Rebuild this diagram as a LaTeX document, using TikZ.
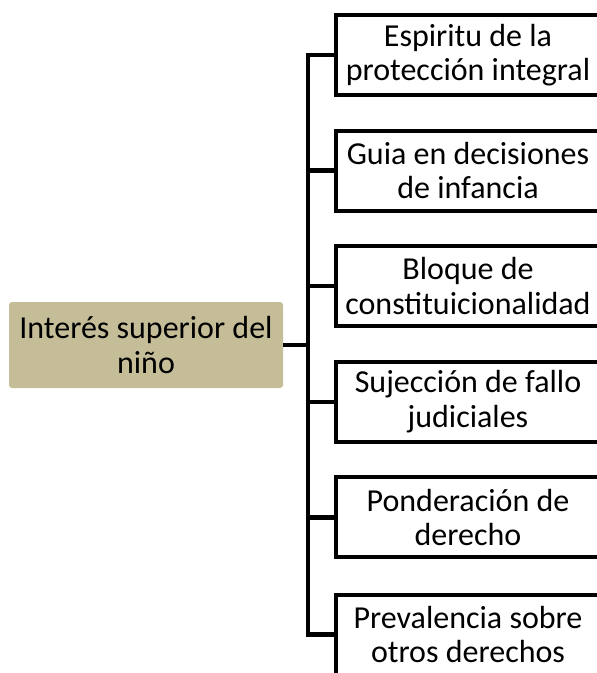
\documentclass[tikz,border=0pt]{standalone}
\usepackage{fontspec}
\setmainfont{Carlito}
\definecolor{tanfill}{HTML}{C4BD97}
\begin{document}
\begin{tikzpicture}[x=1pt,y=-1pt,
  leaf/.style={draw=black, line width=4pt, fill=white, minimum width=264pt, minimum height=80pt, inner sep=0pt, align=center, font=\fontsize{32}{34.5}\selectfont},
  rootbox/.style={fill=tanfill, rounded corners=3pt, minimum width=274pt, minimum height=86pt, inner sep=0pt, align=center, font=\fontsize{32}{34.5}\selectfont},
  conn/.style={line width=4.5pt, draw=black}]
\useasboundingbox (0,0) rectangle (597,673);
\node[rootbox] (root) at (146,345) {Interés superior del\\niño};
\node[leaf] (b1) at (468,55) {Espiritu de la\\protección integral};
\node[leaf] (b2) at (468,170.6) {Guia en decisiones\\de infancia};
\node[leaf] (b3) at (468,286.2) {Bloque de\\constituicionalidad};
\node[leaf] (b4) at (468,401.8) {Sujección de fallo\\judiciales};
\node[leaf] (b5) at (468,517.4) {Ponderación de\\derecho};
\node[leaf] (b6) at (468,634.5) {Prevalencia sobre\\otros derechos};
\coordinate (trunk) at (308,345);
\draw[conn] (root.east) -- (trunk);
\foreach \b in {b1,b2,b3,b4,b5,b6}{
  \draw[conn] (trunk) |- (\b.west);
}
\end{tikzpicture}
\end{document}
